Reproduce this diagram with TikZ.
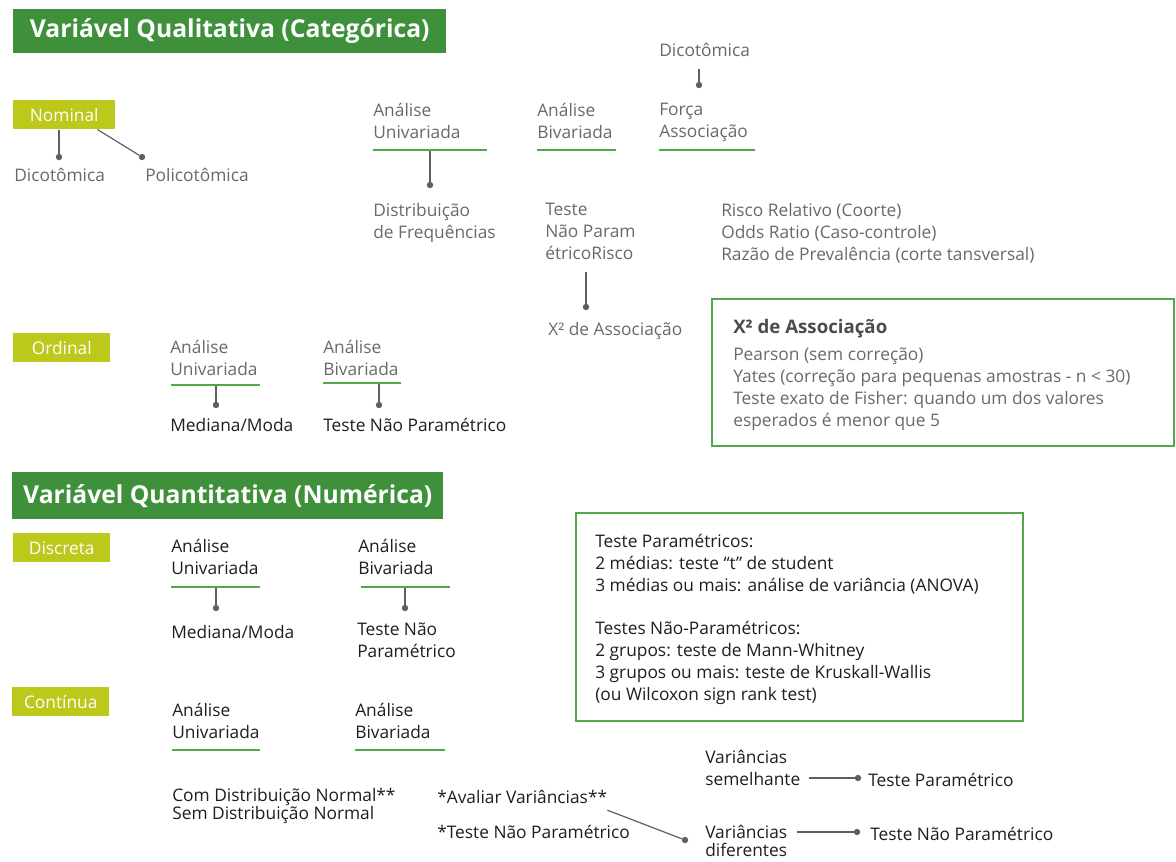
\documentclass[tikz,border=0pt]{standalone}
\usepackage{fontspec}
\setmainfont{Open Sans}

\definecolor{bandgreen}{RGB}{62,145,58}
\definecolor{tagyellow}{RGB}{188,200,26}
\definecolor{linegreen}{RGB}{82,168,72}
\definecolor{txtgray}{RGB}{105,105,105}
\definecolor{txtdark}{RGB}{30,30,30}
\definecolor{titlegray}{RGB}{75,75,75}
\definecolor{conngray}{RGB}{95,95,95}

\newcommand{\bodyfont}{\fontsize{13}{16.5}\selectfont}

\tikzset{
  band/.style={fill=bandgreen, text=white, anchor=north west, inner sep=0pt,
    font=\bfseries\fontsize{18.5}{21}\selectfont},
  tag/.style={fill=tagyellow, text=white, anchor=north west, inner sep=0pt,
    minimum width=72.75pt, minimum height=21.75pt, font=\bodyfont},
  lbl/.style={anchor=north west, inner sep=0pt, align=left, font=\bodyfont,
    text=txtgray, yshift=5.5pt, execute at begin node=\strut},
  dark/.style={lbl, text=txtdark},
  dot/.style={circle, fill=conngray, inner sep=0pt, minimum size=4.8pt},
  conn/.style={draw=conngray, line width=0.9pt},
  uline/.style={draw=linegreen, line width=2pt},
  frame/.style={draw=linegreen, line width=1.6pt, anchor=north west, inner sep=0pt}
}

\begin{document}
\begin{tikzpicture}[x=0.75pt,y=-0.75pt]
\useasboundingbox (0,0) rectangle (1176,862);

% qualitativa
\node[band, minimum width=324.75pt, minimum height=33pt] (qual) at (13,9) {Variável Qualitativa (Categórica)};
\node[tag, minimum width=76.5pt] (nominal) at (13,100) {Nominal};
\node[lbl] (dicot) at (14,173) {Dicotômica};
\node[lbl] (policot) at (145,173) {Policotômica};
\node[dot] (dDicot) at (59,157) {};
\node[dot] (dPolicot) at (142,157) {};
\draw[conn] (nominal.south -| dDicot) -- (dDicot);
\draw[conn] ([xshift=-13.5pt]nominal.south east) -- (dPolicot);

\node[lbl] (uni1) at (373,110) {Análise\\Univariada};
\node[lbl] (biv1) at (537,110) {Análise\\Bivariada};
\node[lbl] (forca) at (659,110) {Força\\Associação};
\node[lbl] (dicTop) at (659,48) {Dicotômica};
\node[dot] (dForca) at (699,85) {};
\draw[conn, shorten <=4pt] (dicTop.south -| dForca) -- (dForca);

\node[lbl] (distFreq) at (373,210) {Distribuição\\de Frequências};
\node[dot] (dDist) at (430,185) {};
\coordinate (uUni1) at (430,150);
\draw[conn] (uUni1) -- (dDist);

\node[lbl] (testeNP1) at (545,210) {Teste\\Não Param\\étricoRisco};
\node[lbl] (risco) at (721,210) {Risco Relativo (Coorte)\\Odds Ratio (Caso-controle)\\Razão de Prevalência (corte tansversal)};
\coordinate (cTeste) at (586,272);
\node[dot] (dQui) at (586,307) {};
\draw[conn] (cTeste) -- (dQui);
\node[lbl] (qui) at (548,327) {X² de Associação};

\node[frame, minimum width=346.5pt, minimum height=110.25pt] (xbox) at (711,298) {};
\node[lbl, font=\bfseries\fontsize{14}{16.5}\selectfont, text=titlegray] (xtitle) at (733,325) {X² de Associação};
\node[lbl] (xbody) at (733,355) {Pearson (sem correção)\\Yates (correção para pequenas amostras - n < 30)\\Teste exato de Fisher: quando um dos valores\\esperados é menor que 5};

% ordinal
\node[tag] (ordinal) at (13,333) {Ordinal};
\node[lbl] (uni2) at (170,347) {Análise\\Univariada};
\node[lbl] (biv2) at (323,347) {Análise\\Bivariada};
\coordinate (uUni2) at (216,385);
\coordinate (uBiv2) at (379,383);
\node[dot] (dMed2) at (216,405) {};
\node[dot] (dTnp2) at (379,405) {};
\draw[conn] (uUni2) -- (dMed2);
\draw[conn] (uBiv2) -- (dTnp2);
\node[dark] (med2) at (170,423) {Mediana/Moda};
\node[dark] (tnp2) at (323,423) {Teste Não Paramétrico};

% quantitativa
\node[band, minimum width=323.25pt, minimum height=35.25pt] (quant) at (12,472) {Variável Quantitativa (Numérica)};
\node[tag] (discreta) at (13,533) {Discreta};
\node[dark] (uni3) at (171,546) {Análise\\Univariada};
\node[dark] (biv3) at (358,546) {Análise\\Bivariada};
\coordinate (uUni3) at (216,587);
\coordinate (uBiv3) at (405,587);
\node[dot] (dMed3) at (216,608) {};
\node[dot] (dTnp3) at (405,608) {};
\draw[conn] (uUni3) -- (dMed3);
\draw[conn] (uBiv3) -- (dTnp3);
\node[dark] (med3) at (171,630) {Mediana/Moda};
\node[dark] (tnp3) at (357,630) {Teste Não\\Paramétrico};

\node[frame, minimum width=335.25pt, minimum height=156pt] (pbox) at (575,512) {};
\node[dark] (ptext) at (595,541) {Teste Paramétricos:\\2 médias: teste “t” de student\\3 médias ou mais: análise de variância (ANOVA)\\[16pt]Testes Não-Paramétricos:\\2 grupos: teste de Mann-Whitney\\3 grupos ou mais: teste de Kruskall-Wallis\\(ou Wilcoxon sign rank test)};

\node[tag] (continua) at (12,687) {Contínua};
\node[dark] (uni4) at (172,710) {Análise\\Univariada};
\node[dark] (biv4) at (355,710) {Análise\\Bivariada};
\node[dark] (normal) at (172,795) {Com Distribuição Normal**\\[-3pt]Sem Distribuição Normal};
\node[dark] (avaliar) at (437,795) {*Avaliar Variâncias**};
\node[dark] (tnp4) at (437,830) {*Teste Não Paramétrico};

\node[dark] (varSem) at (705,757) {Variâncias\\semelhante};
\node[dot] (dTpar) at (858,778) {};
\node[dark] (tpar) at (868,778) {Teste Paramétrico};
\draw[conn, shorten <=6pt] (varSem.east |- dTpar) -- (dTpar);

\node[dot] (dDif) at (685,840) {};
\draw[conn] (avaliar.south east) -- (dDif);
\node[dark] (varDif) at (705,832) {Variâncias\\[-2.5pt]diferentes};
\node[dot] (dTnp5) at (857,832) {};
\node[dark] (tnp5) at (870,832) {Teste Não Paramétrico};
\draw[conn, shorten <=7.5pt] (dTnp5 -| varDif.east) -- (dTnp5);

% linhas verdes
\foreach \a/\b/\y in {373/487/150, 537/616/150, 659/755/150, 171/260/385, 323/401/383,
                      171/260/587, 361/450/587, 172/260/750, 355/445/750}
  \draw[uline] (\a,\y) -- (\b,\y);
\end{tikzpicture}
\end{document}
